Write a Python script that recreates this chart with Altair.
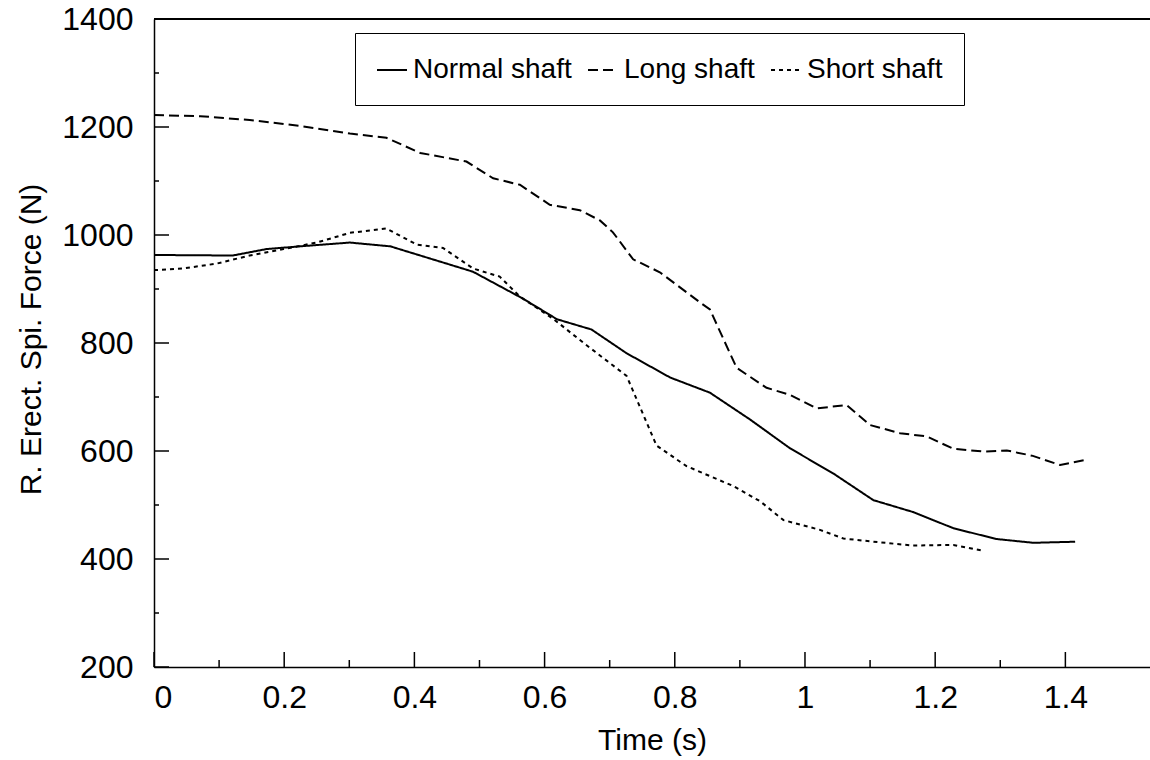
import altair as alt
import pandas as pd

# ---------------- data ----------------
series_names = ["Normal shaft", "Long shaft", "Short shaft"]

normal_t = [0.0, 0.121, 0.173, 0.235, 0.301, 0.363, 0.455, 0.49, 0.567, 0.619, 0.672,
            0.726, 0.793, 0.854, 0.916, 0.977, 1.044, 1.105, 1.166, 1.228, 1.294, 1.351, 1.415]
normal_f = [963, 962, 974, 980, 986, 979, 945, 932, 882, 844, 825,
            781, 736, 708, 658, 605, 558, 509, 487, 457, 437, 430, 432]

long_t = [0.0, 0.071, 0.147, 0.224, 0.301, 0.357, 0.409, 0.48, 0.521, 0.562, 0.608,
          0.654, 0.685, 0.705, 0.736, 0.777, 0.839, 0.854, 0.895, 0.941, 0.977, 1.018,
          1.064, 1.1, 1.146, 1.187, 1.228, 1.274, 1.31, 1.35, 1.392, 1.433]
long_f = [1222, 1220, 1213, 1202, 1188, 1180, 1152, 1136, 1105, 1093, 1056,
          1046, 1027, 1005, 955, 931, 875, 862, 754, 717, 704, 679,
          685, 648, 633, 627, 604, 599, 601, 591, 574, 584]

short_t = [0.0, 0.045, 0.096, 0.147, 0.199, 0.25, 0.301, 0.357, 0.404, 0.444, 0.49,
           0.531, 0.562, 0.613, 0.659, 0.726, 0.772, 0.818, 0.89, 0.931, 0.967, 1.023,
           1.059, 1.105, 1.166, 1.228, 1.271]
short_f = [935, 938, 947, 962, 974, 986, 1004, 1012, 982, 976, 938,
           923, 886, 845, 801, 739, 610, 572, 535, 507, 472, 454,
           438, 432, 425, 426, 416]

x_major = [0, 0.2, 0.4, 0.6, 0.8, 1.0, 1.2, 1.4]
x_minor = [0.1, 0.3, 0.5, 0.7, 0.9, 1.1, 1.3]
y_major = [200, 400, 600, 800, 1000, 1200, 1400]
y_minor = [300, 500, 700, 900, 1100, 1300]

# ---------------- tables ----------------
rows = []
for name, ts, fs in [(series_names[0], normal_t, normal_f),
                     (series_names[1], long_t, long_f),
                     (series_names[2], short_t, short_f)]:
    for t, f in zip(ts, fs):
        rows.append({"series": name, "t": t, "f": f})
df = pd.DataFrame(rows)

W, H = 996, 648
FONT = "Liberation Sans"

xscale = alt.Scale(domain=[0, 1.53], nice=False, zero=False)
yscale = alt.Scale(domain=[200, 1400], nice=False, zero=False)

x_axis = alt.Axis(values=x_major, format="~g", title="Time (s)",
                  labelPadding=15, titleY=58, titleBaseline="top")
y_axis = alt.Axis(values=y_major, format="d", title="R. Erect. Spi. Force (N)",
                  labelPadding=21, titleX=-114, titleY=320, titleBaseline="alphabetic")

lines = alt.Chart(df).mark_line(strokeWidth=2, color="black", clip=True).encode(
    x=alt.X("t:Q", scale=xscale, axis=x_axis),
    y=alt.Y("f:Q", scale=yscale, axis=y_axis),
    strokeDash=alt.StrokeDash(
        "series:N",
        scale=alt.Scale(domain=series_names, range=[[1, 0], [10, 5], [4, 4]]),
        legend=alt.Legend(
            title=None, orient="none", legendX=201, legendY=14,
            direction="horizontal", columns=3,
            symbolType="stroke", symbolSize=900, symbolStrokeWidth=2,
            symbolStrokeColor="black",
            labelFont=FONT, labelFontSize=28, labelColor="black", labelOffset=5,
            labelLimit=400,
            fillColor="white", strokeColor="black", padding=21, columnPadding=12,
        ),
    ),
)

x_major_df = pd.DataFrame({"v": x_major})
x_minor_df = pd.DataFrame({"v": x_minor})
y_major_df = pd.DataFrame({"v": y_major})
y_minor_df = pd.DataFrame({"v": y_minor})

xt1 = alt.Chart(x_major_df).mark_rule(color="black", strokeWidth=1.5).encode(
    x=alt.X("v:Q", scale=xscale, axis=x_axis), y=alt.value(H), y2=alt.value(H - 15))
xt2 = alt.Chart(x_minor_df).mark_rule(color="black", strokeWidth=1.5).encode(
    x=alt.X("v:Q", scale=xscale, axis=x_axis), y=alt.value(H), y2=alt.value(H - 7))
yt1 = alt.Chart(y_major_df).mark_rule(color="black", strokeWidth=1.5).encode(
    y=alt.Y("v:Q", scale=yscale, axis=y_axis), x=alt.value(0), x2=alt.value(15))
yt2 = alt.Chart(y_minor_df).mark_rule(color="black", strokeWidth=1.5).encode(
    y=alt.Y("v:Q", scale=yscale, axis=y_axis), x=alt.value(0), x2=alt.value(5))
top_line = alt.Chart(x_major_df).mark_rule(color="black", strokeWidth=1.5).encode(
    x=alt.value(0), x2=alt.value(W), y=alt.value(0))

chart = alt.layer(lines, xt1, xt2, yt1, yt2, top_line).properties(
    width=W, height=H,
    background="white",
    padding={"left": 154, "top": 19, "right": 0, "bottom": 93},
    autosize=alt.AutoSizeParams(type="none"),
).configure_view(stroke=None).configure_axis(
    grid=False, ticks=False, tickSize=0, domain=True, domainColor="black",
    domainWidth=1.5,
    labelFont=FONT, labelFontSize=32, labelColor="black",
    titleFont=FONT, titleFontSize=30, titleColor="black", titleFontWeight="normal",
)

chart.save("out.html", embed_options={"renderer": "svg", "actions": False})
